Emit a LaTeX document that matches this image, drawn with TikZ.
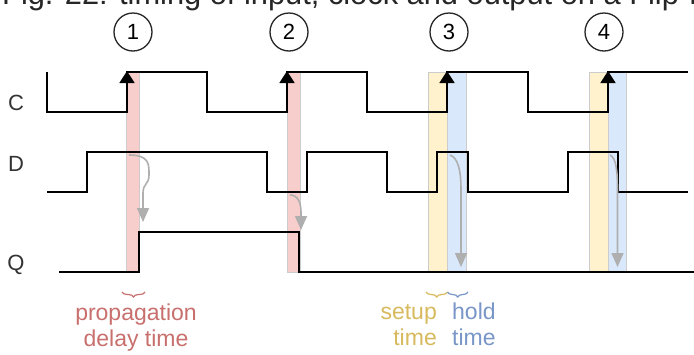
\documentclass[tikz,border=0pt]{standalone}
\usepackage{fontspec}
\setmainfont{Liberation Sans}
\usetikzlibrary{arrows.meta,decorations.pathreplacing}
\definecolor{redfill}{HTML}{F8CECC}
\definecolor{yelfill}{HTML}{FFF2CC}
\definecolor{bluefill}{HTML}{DAE8FC}
\definecolor{redtxt}{HTML}{C8706E}
\definecolor{yeltxt}{HTML}{D8BA5E}
\definecolor{bluetxt}{HTML}{7896C8}
\definecolor{arrowgray}{HTML}{AFAFAF}
\definecolor{labelgray}{HTML}{333333}
\definecolor{bandedge}{HTML}{CCCCCC}
\begin{document}
\begin{tikzpicture}[x=1pt,y=-1pt,
  signal/.style={line width=1.7pt, draw=black, line join=miter},
  band/.style={draw=bandedge, line width=0.8pt},
  flowarrow/.style={draw=arrowgray, line width=1.6pt, -{Triangle[width=12pt,length=14pt]}},
  edgetip/.style={-{Triangle[width=15pt,length=12pt]}, line width=1.7pt},
  signame/.style={text=labelgray, font=\fontsize{22}{26}\selectfont, inner sep=0pt, anchor=base},
  stepnum/.style={circle, draw=black!85, line width=1.3pt, minimum size=38pt, inner sep=0pt, font=\fontsize{22}{26}\selectfont},
  timelabel/.style={font=\fontsize{23}{27}\selectfont, inner sep=0pt},
  tbrace/.style={decorate, decoration={brace, mirror, amplitude=5pt}, line width=1.2pt}
]
\useasboundingbox (0,0) rectangle (694,354);
\clip (0,0) rectangle (694,354);
\fill[white] (0,0) rectangle (694,354);
% title (clipped at top, as in the reference)
\node[anchor=base west, font=\fontsize{30.8}{36}\selectfont, text=black!85, inner sep=0pt] (title) at (2,4) {Fig. 22: timing of input, clock and output on a Flip-Flop};
% bands
\filldraw[band, fill=redfill] (126,72) rectangle (139.3,272);
\filldraw[band, fill=redfill] (287.3,72) rectangle (300,272);
\filldraw[band, fill=yelfill] (428.3,72) rectangle (447.3,272);
\filldraw[band, fill=bluefill] (447.3,72) rectangle (466,272);
\filldraw[band, fill=yelfill] (589.3,72) rectangle (608.3,272);
\filldraw[band, fill=bluefill] (608.3,72) rectangle (626,272);
% signals
\draw[signal] (47,72) -- (47,112) -- (127,112) -- (127,72) -- (207,72) -- (207,112) -- (287,112) -- (287,72) -- (367,72) -- (367,112) -- (447,112) -- (447,72) -- (528,72) -- (528,112) -- (608,112) -- (608,72) -- (688,72);
\foreach \ex in {127,287,447,608}{
  \draw[edgetip] (\ex,100) -- (\ex,71);
}
\draw[signal] (47,192) -- (87,192) -- (87,152) -- (267,152) -- (267,192) -- (307,192) -- (307,152) -- (387,152) -- (387,192) -- (437,192) -- (437,152) -- (468,152) -- (468,192) -- (568,192) -- (568,152) -- (618,152) -- (618,192) -- (688,192);
\draw[signal] (59,272) -- (139.3,272) -- (139.3,232) -- (299.3,232) -- (299.3,272) -- (694,272);
% gray causal arrows
\draw[flowarrow] (129,155) .. controls (150,155) and (149,165) .. (149,175) .. controls (149,185) and (143,183) .. (143,193) -- (143,222);
\draw[flowarrow] (290,195) .. controls (298,195) and (301,203) .. (301,212) -- (301,230);
\draw[flowarrow] (450,155) .. controls (458,158) and (461,170) .. (461,190) -- (461,267);
\draw[flowarrow] (610,155) .. controls (616,158) and (617.5,170) .. (617.5,190) -- (617.5,267);
% circled step numbers
\node[stepnum] (n1) at (133,32) {1};
\node[stepnum] (n2) at (289,32) {2};
\node[stepnum] (n3) at (449,32) {3};
\node[stepnum] (n4) at (604,32) {4};
% signal names
\node[signame] (lc) at (16,110.5) {C};
\node[signame] (ld) at (16,171.5) {D};
\node[signame] (lq) at (16,270.5) {Q};
% braces
\draw[tbrace, redtxt] (122,292) -- (145,292);
\draw[tbrace, yeltxt] (426,292) -- (447.5,292);
\draw[tbrace, bluetxt] (447.5,292) -- (468,292);
% time labels
\node[timelabel, text=redtxt, anchor=base] (pd1) at (136,320) {propagation};
\node[timelabel, text=redtxt, anchor=base] (pd2) at (136,346) {delay time};
\node[timelabel, text=yeltxt, anchor=base east] (st1) at (437,319.5) {setup};
\node[timelabel, text=yeltxt, anchor=base east] (st2) at (437,345.5) {time};
\node[timelabel, text=bluetxt, anchor=base west] (ht1) at (452,319.5) {hold};
\node[timelabel, text=bluetxt, anchor=base west] (ht2) at (452,345.5) {time};
\end{tikzpicture}
\end{document}
